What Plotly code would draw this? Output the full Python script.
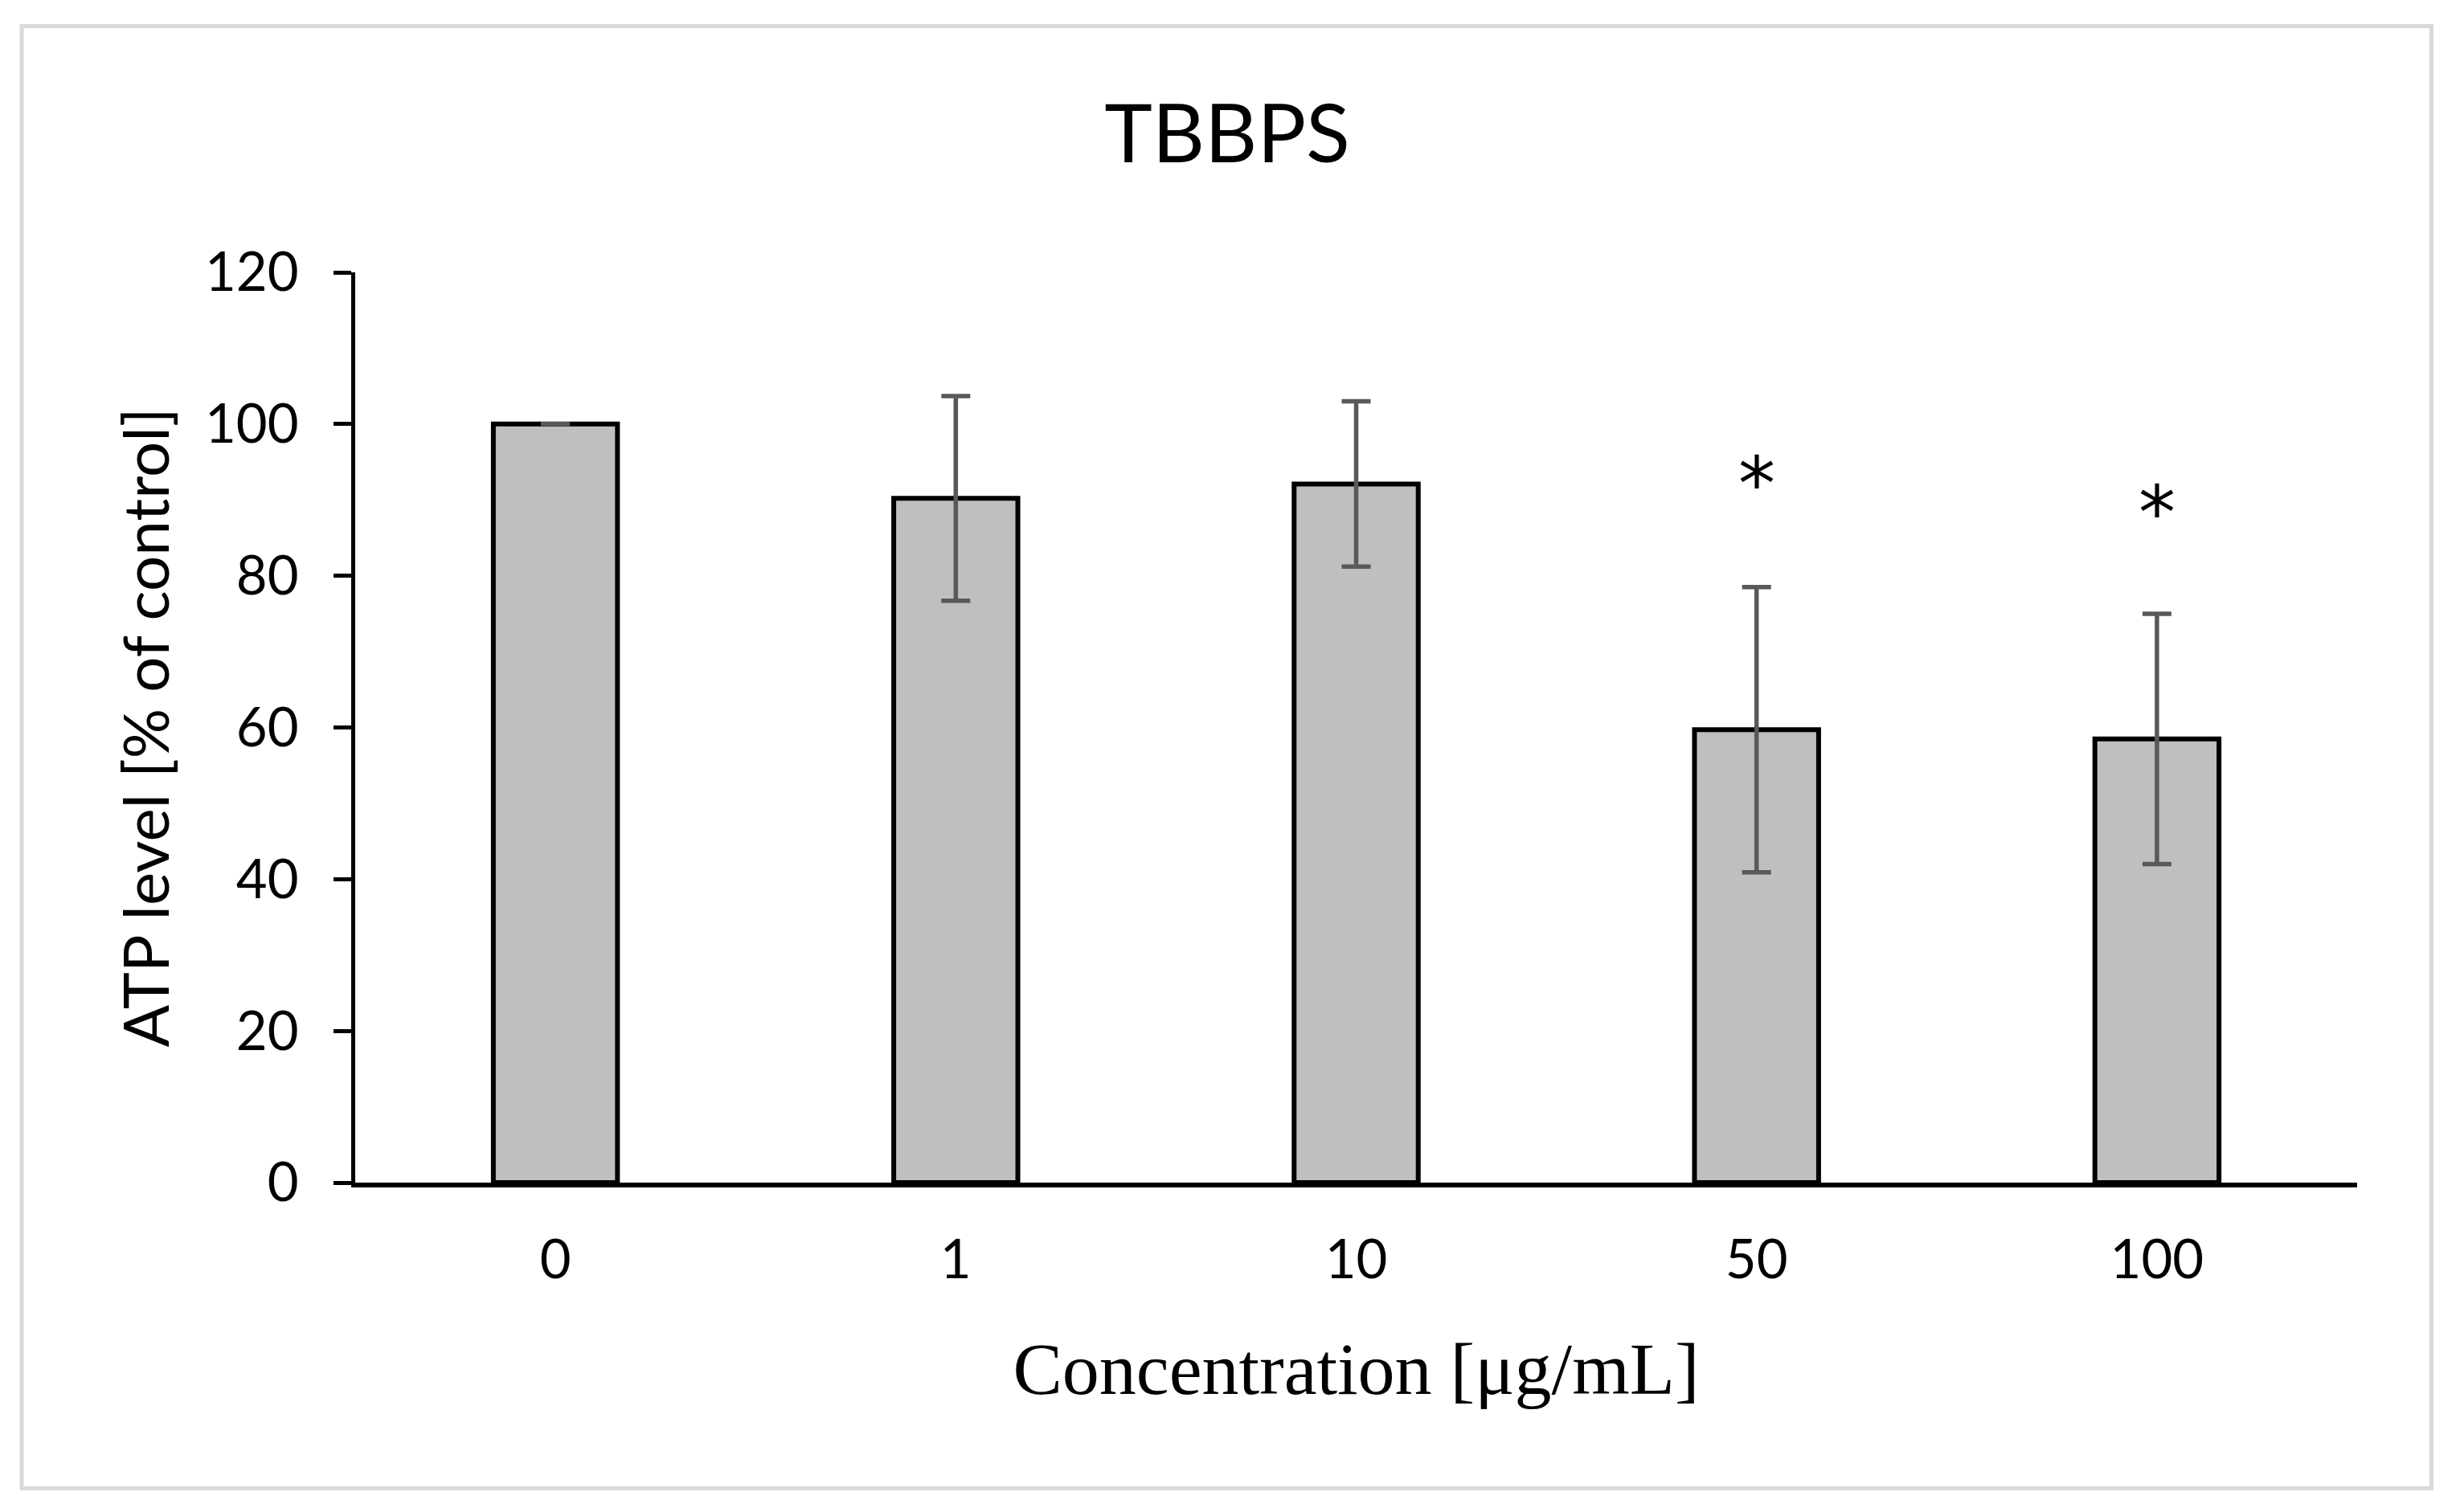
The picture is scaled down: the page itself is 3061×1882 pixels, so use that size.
import plotly.graph_objects as go

categories = ["0", "1", "10", "50", "100"]
atp_mean = [100.0, 90.2, 92.1, 59.7, 58.5]
atp_err = [0.0, 13.5, 10.9, 18.8, 16.5]
star_cats = ["50", "100"]
star_y = [93.5, 89.7]
y_ticks = [0, 20, 40, 60, 80, 100, 120]

OFF = 8  # default page margin
W, H = 3061 - 2 * OFF, 1882 - 2 * OFF
L, T = 442 - OFF, 339 - OFF
R = W - (2933 - OFF)
B = H - (1472 - OFF)
pw, ph = W - L - R, H - T - B

def px_x(x):
    return (x - OFF - L) / pw

def px_y(y):
    return (H - B - (y - OFF)) / ph

fig = go.Figure()
fig.add_trace(go.Bar(
    x=categories, y=atp_mean, width=0.31,
    marker=dict(color="#bfbfbf", line=dict(color="black", width=6)),
    error_y=dict(type="data", array=atp_err, visible=True,
                 color="#595959", thickness=5.5, width=18),
    showlegend=False,
))

for c, v in zip(star_cats, star_y):
    fig.add_annotation(x=categories.index(c), y=v, text="*", showarrow=False,
                       font=dict(family="DejaVu Sans", size=92, color="black"),
                       xanchor="center", yanchor="middle", yshift=-14)

fig.add_shape(type="rect", xref="paper", yref="paper",
              x0=px_x(27), x1=px_x(3025.5), y0=px_y(1852.5), y1=px_y(32.5),
              line=dict(color="#d9d9d9", width=5), layer="below")

fig.update_layout(
    width=W, height=H,
    margin=dict(l=L, r=R, t=T, b=B, autoexpand=False),
    plot_bgcolor="white", paper_bgcolor="white",
    title=dict(text="TBBPS", x=(1527 - OFF) / W, xanchor="center",
               y=1 - (167 - OFF) / H, yanchor="middle",
               font=dict(family="Lato", size=101, color="black")),
)
fig.update_xaxes(
    type="category", range=[-0.5, len(categories) - 0.5],
    showline=True, linecolor="black", linewidth=6,
    ticks="", showgrid=False, zeroline=False,
    tickfont=dict(family="Lato", size=67, color="black"),
    ticklabelstandoff=33,
    title=dict(text="Concentration [μg/mL]", standoff=68,
               font=dict(family="Liberation Serif", size=92, color="black")),
)
fig.update_yaxes(
    range=[0, 120], tickvals=y_ticks, showline=True, linecolor="black",
    linewidth=5, ticks="outside", ticklen=22, tickwidth=5, tickcolor="black",
    showgrid=False, zeroline=False,
    tickfont=dict(family="Lato", size=67, color="black"),
    ticklabelstandoff=30,
    title=dict(text="ATP level [% of control]", standoff=20,
               font=dict(family="Lato", size=78, color="black")),
)

fig.write_html("out.html")
